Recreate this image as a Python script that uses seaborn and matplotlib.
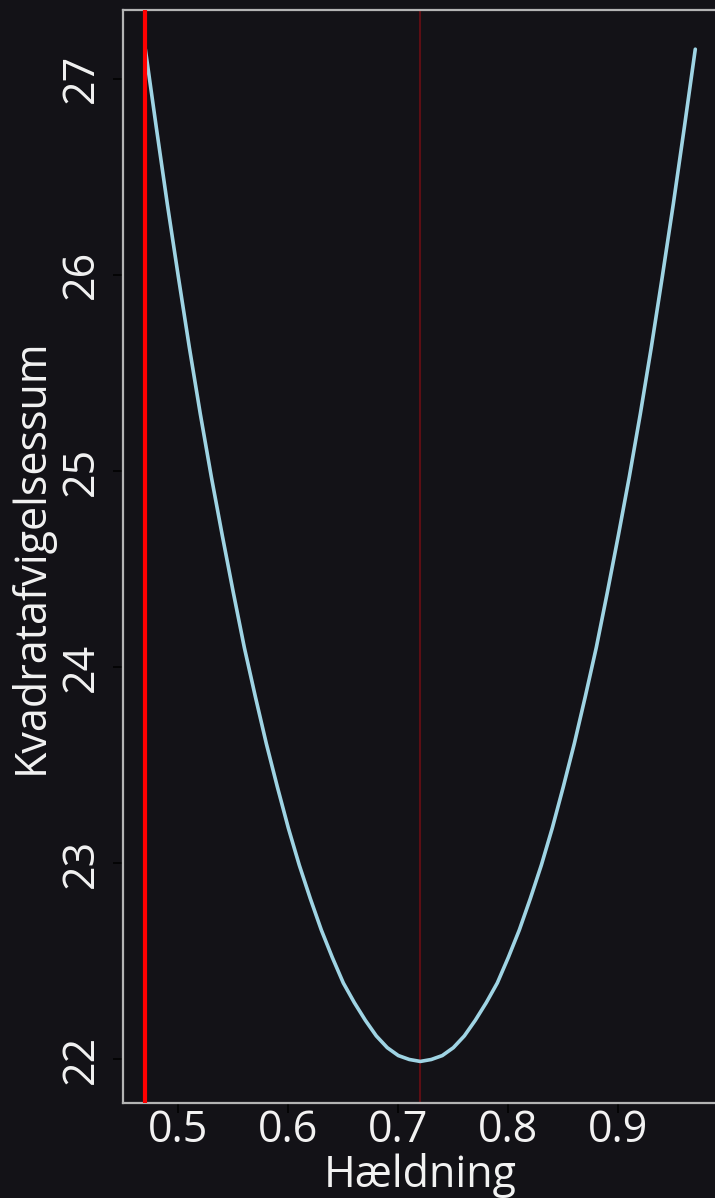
import matplotlib
matplotlib.use("Agg")
import matplotlib.pyplot as plt
import seaborn as sns
import pandas as pd

# Sum of squared deviations for a range of candidate slopes
slopes = [0.47, 0.48, 0.49, 0.50, 0.51, 0.52, 0.53, 0.54, 0.55, 0.56, 0.57, 0.58, 0.59,
          0.60, 0.61, 0.62, 0.63, 0.64, 0.65, 0.66, 0.67, 0.68, 0.69, 0.70, 0.71, 0.72,
          0.73, 0.74, 0.75, 0.76, 0.77, 0.78, 0.79, 0.80, 0.81, 0.82, 0.83, 0.84, 0.85,
          0.86, 0.87, 0.88, 0.89, 0.90, 0.91, 0.92, 0.93, 0.94, 0.95, 0.96, 0.97]
sse = [27.15, 26.75, 26.36, 25.99, 25.63, 25.29, 24.97, 24.67, 24.38, 24.10, 23.85, 23.61, 23.39,
       23.18, 22.99, 22.82, 22.66, 22.52, 22.39, 22.29, 22.20, 22.12, 22.06, 22.02, 22.00, 21.99,
       22.00, 22.02, 22.06, 22.12, 22.20, 22.29, 22.39, 22.52, 22.66, 22.82, 22.99, 23.18, 23.39,
       23.61, 23.85, 24.10, 24.38, 24.67, 24.97, 25.29, 25.63, 25.99, 26.36, 26.75, 27.15]

start_slope = 0.47   # current slope (bright red marker)
best_slope = 0.72    # slope with the smallest sum of squares

x_ticks = [0.5, 0.6, 0.7, 0.8, 0.9]
y_ticks = [22, 23, 24, 25, 26, 27]

BG = "#131217"
FG = "#f2f2f2"

sns.set_theme(style="dark", rc={
    "figure.facecolor": BG,
    "axes.facecolor": BG,
    "axes.edgecolor": "#b4b4b4",
    "axes.linewidth": 1.6,
    "axes.grid": False,
    "text.color": FG,
    "axes.labelcolor": FG,
    "xtick.color": "black",
    "ytick.color": "black",
    "xtick.labelcolor": FG,
    "ytick.labelcolor": FG,
})
plt.rcParams["font.family"] = ["Open Sans", "DejaVu Sans"]

df = pd.DataFrame({"slope": slopes, "sse": sse})

fig = plt.figure(figsize=(7.15, 11.98), dpi=100)
ax = fig.add_axes([0.1725, 0.0796, 0.8307, 0.9121])

ax.axvline(best_slope, color="#5c0e14", linewidth=1.5, zorder=1)
ax.axvline(start_slope, color="#ff0000", linewidth=3.0, zorder=3)
sns.lineplot(data=df, x="slope", y="sse", ax=ax, color="#9fd4e4", linewidth=2.6, zorder=2)

ax.set_xlim(0.45, 0.99)
ax.set_ylim(21.78, 27.35)
ax.set_xticks(x_ticks)
ax.set_xticklabels([f"{v:.1f}" for v in x_ticks])
ax.set_yticks(y_ticks)
ax.set_yticklabels([str(v) for v in y_ticks], rotation=90, va="center")

ax.tick_params(axis="both", which="major", length=7, width=1.1, labelsize=31,
               bottom=True, left=True, direction="out")
ax.tick_params(axis="x", pad=-3)
ax.tick_params(axis="y", pad=7)

ax.set_xlabel("Hældning", fontsize=31, labelpad=0)
ax.set_ylabel("Kvadratafvigelsessum", fontsize=31, labelpad=4)

for side in ("top", "left", "bottom", "right"):
    ax.spines[side].set_visible(True)

fig.savefig("out.png", dpi=100, facecolor=BG)
